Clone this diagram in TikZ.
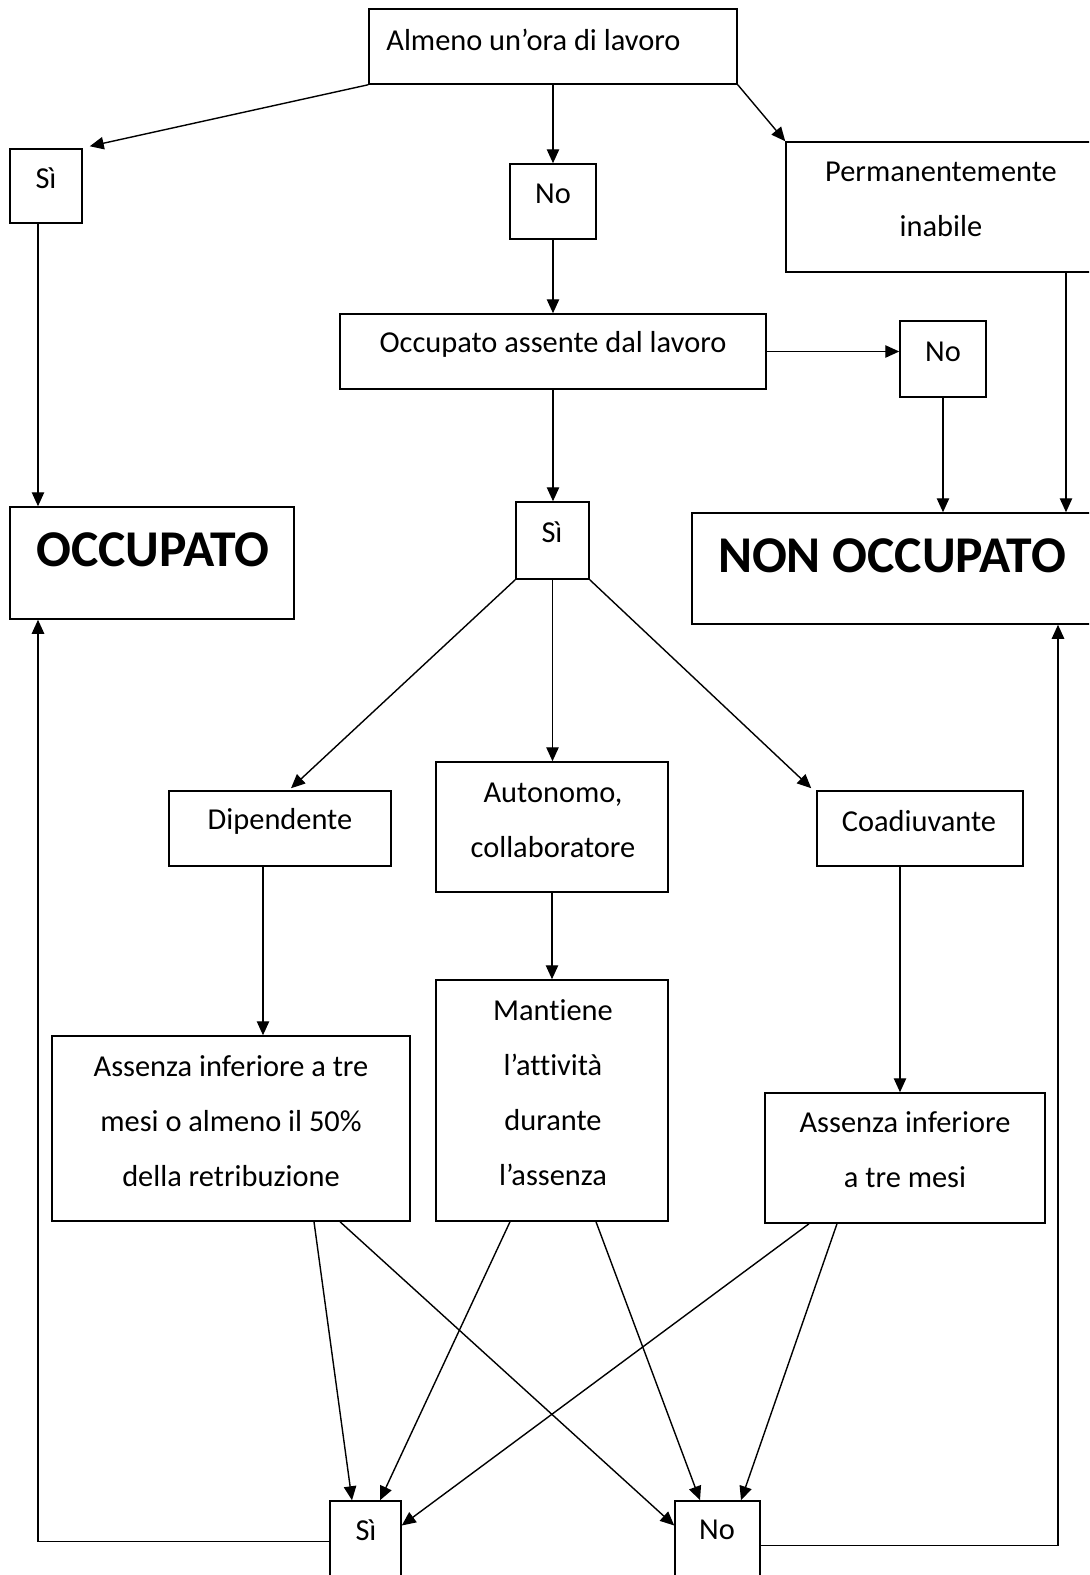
\documentclass[tikz,border=0pt]{standalone}
\usepackage{fontspec}
\setmainfont[Ligatures={NoCommon}]{Carlito}
\usetikzlibrary{arrows.meta,fit,calc}
\begin{document}
\begin{tikzpicture}[x=0.5pt,y=-0.5pt,
  box/.style={draw,line width=0.75pt,inner sep=0pt,rectangle},
  txt/.style={font=\fontsize{15.2}{27.5}\selectfont,align=center,inner sep=0pt},
  big/.style={font=\fontsize{25.8}{28}\selectfont\bfseries,inner sep=0pt},
  arr/.style={line width=0.7pt,-{Triangle[length=7pt,width=6.2pt]}},
  ln/.style={line width=0.7pt}]
\useasboundingbox (0,0) rectangle (1089,1575);
\clip (0,0) rectangle (1089,1575);
% boxes
\node[box,fit={(369,9)(737,84)}] (almeno) {};
\node[box,fit={(10,149)(82,223)}] (si1) {};
\node[box,fit={(510,164)(596,239)}] (no1) {};
\node[box,fit={(786,142)(1095,272)}] (perm) {};
\node[box,fit={(340,314)(766,389)}] (assente) {};
\node[box,fit={(900,321)(986,397)}] (no2) {};
\node[box,fit={(10,507)(294,619)}] (occ) {};
\node[box,fit={(516,502)(589,579)}] (si2) {};
\node[box,fit={(692,513)(1095,624)}] (nonocc) {};
\node[box,fit={(169,791)(391,866)}] (dip) {};
\node[box,fit={(436,762)(668,892)}] (auto) {};
\node[box,fit={(817,791)(1023,866)}] (coad) {};
\node[box,fit={(52,1036)(410,1221)}] (ass1) {};
\node[box,fit={(436,980)(668,1221)}] (mant) {};
\node[box,fit={(765,1093)(1045,1223)}] (ass2) {};
\node[box,fit={(330,1501)(401,1578)}] (si3) {};
\node[box,fit={(675,1501)(760,1578)}] (no3) {};
% texts
\node[txt,anchor=west] (t-almeno) at (386,40) {Almeno un’ora di lavoro};
\node[txt] (t-si1) at (46,178) {Sì};
\node[txt] (t-no1) at (553,194) {No};
\node[txt] (t-perm) at (941,199) {Permanentemente\\inabile};
\node[txt] (t-assente) at (553,344) {Occupato assente dal lavoro};
\node[txt] (t-no2) at (943,352) {No};
\node[big] (t-occ) at (153,550) {OCCUPATO};
\node[txt] (t-si2) at (552,532) {Sì};
\node[big] (t-nonocc) at (892,556) {NON OCCUPATO};
\node[txt] (t-dip) at (280,821) {Dipendente};
\node[txt] (t-auto) at (553,820) {Autonomo,\\collaboratore};
\node[txt] (t-coad) at (919,821) {Coadiuvante};
\node[txt] (t-ass1) at (231,1121) {Assenza inferiore a tre\\mesi o almeno il 50\%\\della retribuzione};
\node[txt] (t-mant) at (553,1093) {Mantiene\\l’attività\\durante\\l’assenza};
\node[txt] (t-ass2) at (905,1150) {Assenza inferiore\\a tre mesi};
\node[txt] (t-si3) at (366,1530) {Sì};
\node[txt] (t-no3) at (717,1530) {No};
% connectors
\draw[arr] (almeno.south west) -- ($(si1.north east)+(7,-2)$);
\draw[arr] (almeno.south) -- (almeno.south |- no1.north);
\draw[arr] (almeno.south east) -- (perm.north west);
\draw[arr] ($(si1.south)+(-8,0)$) -- ($(occ.north)+(-114,0)$);
\draw[arr] (no1.south) -- (no1.south |- assente.north);
\draw[arr] (assente.south) -- (assente.south |- si2.north);
\draw[arr] (assente.east) -- (assente.east -| no2.west);
\draw[arr] (no2.south) -- (no2.south |- nonocc.north);
\draw[arr] ($(perm.south)+(125.5,0)$) -- ($(nonocc.north)+(172.5,0)$);
\draw[arr] (si2.south west) -- ($(dip.north)+(11,-2)$);
\draw[arr] (si2.south) -- (si2.south |- auto.north);
\draw[arr] (si2.south east) -- ($(coad.north west)+(-5,-2)$);
\draw[arr] ($(dip.south)+(-17,0)$) -- ($(ass1.north)+(32,0)$);
\draw[arr] (auto.south) -- (auto.south |- mant.north);
\draw[arr] ($(coad.south)+(-20,0)$) -- ($(ass2.north)+(-5,0)$);
\draw[arr] ($(ass1.south)+(83,0)$) -- ($(si3.north)+(-13.5,0)$);
\draw[arr] ($(ass1.south)+(109,0)$) -- ($(no3.west)+(0,-14)$);
\draw[arr] ($(mant.south)+(-42,0)$) -- ($(si3.north)+(14.5,0)$);
\draw[arr] ($(mant.south)+(44,0)$) -- ($(no3.north)+(-17.5,0)$);
\draw[arr] ($(ass2.south)+(-96,0)$) -- ($(si3.east)+(0,-14)$);
\draw[arr] ($(ass2.south)+(-68,0)$) -- ($(no3.north)+(23.5,0)$);
\draw[arr] ($(si3.west)+(0,2)$) -| ($(occ.south)+(-114,0)$);
\draw[arr] ($(no3.east)+(0,6)$) -| ($(nonocc.south)+(164.5,0)$);
\end{tikzpicture}
\end{document}
